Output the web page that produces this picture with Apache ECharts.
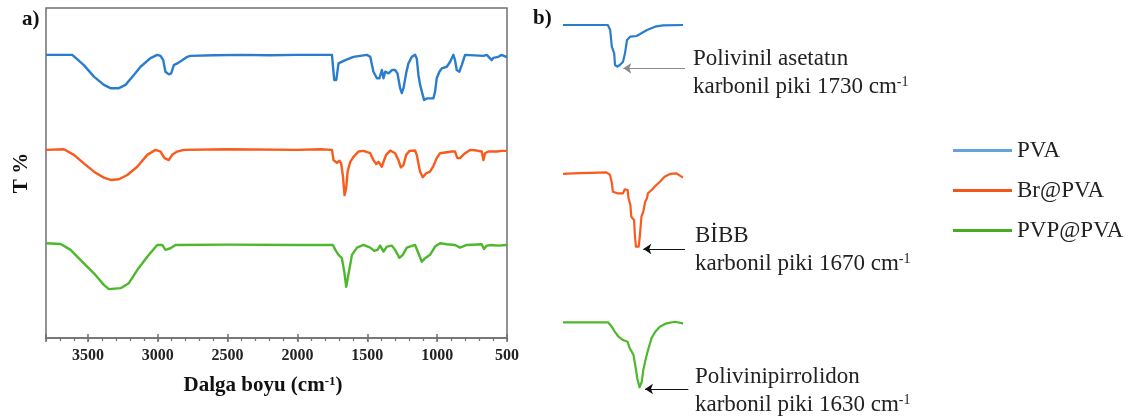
<!DOCTYPE html>
<html>
<head>
<meta charset="utf-8">
<script src="https://cdn.jsdelivr.net/npm/echarts@6/dist/echarts.min.js"></script>
<style>
  html, body { margin: 0; padding: 0; background: #fff; }
  #chart { width: 1132px; height: 416px; }
</style>
</head>
<body>
<div id="chart"></div>
<script>
// FTIR spectra (wavenumber in cm-1, transmittance offset per sample)
const pvaWavenumber = [3800, 3612, 3529, 3457, 3386, 3338, 3278, 3231, 3171, 3123, 3052, 3004, 2980, 2961, 2945, 2921, 2904, 2885, 2861, 2825, 2789, 2766, 2600, 2400, 2200, 2000, 1800, 1753, 1737, 1722, 1706, 1694, 1658, 1599, 1503, 1479, 1456, 1431, 1413, 1396, 1384, 1372, 1348, 1324, 1301, 1284, 1265, 1253, 1241, 1222, 1206, 1181, 1158, 1146, 1134, 1122, 1103, 1093, 1074, 1027, 1015, 1003, 984, 967, 931, 907, 884, 872, 860, 841, 824, 800, 669, 645, 609, 598, 562, 538, 507, 500];
const pvaT = [85.8, 85.8, 82.7, 79.2, 76.7, 75.7, 75.7, 76.7, 79.7, 82.2, 84.8, 85.8, 85.5, 84.2, 80.7, 79.9, 80.2, 82.7, 83.2, 84.2, 85.2, 85.5, 85.7, 85.8, 85.7, 85.8, 85.8, 85.8, 78.2, 78.2, 83.2, 83.7, 84.2, 85.2, 85.8, 85.2, 80.7, 78.7, 78.7, 81.2, 78.7, 80.7, 80.2, 81.2, 81.2, 80.2, 75.7, 74.2, 75.7, 80.2, 83.2, 85.2, 85.8, 84.7, 79.7, 76.7, 73.6, 72.1, 72.6, 72.6, 74.6, 78.7, 80.7, 81.7, 82.2, 83.7, 85.8, 84.2, 81.2, 80.7, 82.7, 85.8, 85.5, 85.8, 84.2, 84.9, 85.2, 85.8, 85.2, 85.3];

const brWavenumber = [3800, 3672, 3600, 3529, 3457, 3386, 3338, 3278, 3218, 3147, 3075, 3016, 2980, 2952, 2921, 2897, 2861, 2814, 2500, 2000, 1837, 1753, 1742, 1717, 1699, 1687, 1674, 1663, 1658, 1651, 1641, 1622, 1599, 1563, 1527, 1479, 1456, 1436, 1420, 1408, 1396, 1384, 1365, 1336, 1301, 1277, 1260, 1241, 1222, 1198, 1158, 1146, 1134, 1122, 1103, 1079, 1051, 1027, 1003, 979, 944, 895, 872, 855, 836, 800, 764, 717, 681, 669, 657, 634, 574, 538, 507, 500];
const brT = [57.0, 57.2, 55.5, 52.9, 50.4, 48.6, 47.9, 48.1, 49.4, 51.9, 55.5, 57.0, 56.5, 54.5, 53.9, 55.5, 56.5, 57.0, 57.2, 57.0, 57.2, 57.0, 53.9, 53.1, 53.7, 52.9, 48.9, 43.3, 42.8, 45.4, 50.4, 53.4, 54.9, 56.5, 56.7, 56.0, 53.9, 52.7, 53.4, 52.9, 51.9, 53.4, 55.5, 56.8, 56.0, 53.9, 51.7, 52.4, 55.5, 56.7, 56.8, 55.5, 52.9, 50.4, 48.7, 49.9, 50.4, 52.1, 54.5, 56.0, 56.2, 56.5, 56.5, 54.5, 54.5, 56.0, 57.0, 56.8, 56.5, 53.9, 56.0, 56.5, 56.5, 56.7, 56.7, 56.7];

const pvpWavenumber = [3800, 3695, 3624, 3529, 3457, 3386, 3350, 3266, 3207, 3147, 3075, 3004, 2968, 2945, 2909, 2873, 2500, 2000, 1746, 1729, 1706, 1682, 1665, 1651, 1641, 1627, 1610, 1574, 1527, 1479, 1450, 1427, 1408, 1384, 1360, 1324, 1301, 1270, 1246, 1217, 1158, 1134, 1110, 1086, 1051, 1015, 979, 931, 872, 836, 788, 681, 665, 645, 609, 562, 507, 500];
const pvpT = [28.7, 28.5, 26.7, 22.6, 19.6, 16.1, 14.8, 15.1, 16.6, 20.6, 24.6, 28.2, 28.2, 26.7, 27.2, 28.2, 28.3, 28.2, 28.2, 26.7, 25.2, 24.2, 20.1, 15.5, 16.1, 21.1, 25.2, 27.4, 28.2, 27.4, 26.4, 26.7, 28.0, 26.2, 27.7, 28.0, 26.7, 24.3, 25.2, 27.4, 28.2, 25.7, 23.1, 24.2, 25.2, 27.7, 28.7, 28.4, 28.2, 27.4, 28.2, 28.4, 27.0, 28.0, 28.2, 28.0, 28.2, 28.2];

// Carbonyl region close-ups
const pvaCoWavenumber = [1798, 1742, 1739, 1737, 1734, 1733, 1730, 1727, 1723, 1720.5, 1718, 1716, 1714, 1706, 1700, 1693, 1683, 1673, 1648];
const pvaCoT = [90, 90, 80, 46.6, 33.4, 10, 6.6, 10, 16.6, 33.4, 60, 63.4, 66.6, 68, 73.4, 80, 86.6, 89.4, 90];

const brCoWavenumber = [1750, 1739, 1737, 1703, 1699, 1697, 1696, 1691, 1685, 1683, 1680, 1679, 1677, 1676, 1673, 1672, 1671, 1668, 1667, 1665, 1663, 1661, 1659, 1658, 1654, 1650, 1645, 1640, 1634, 1627, 1620];
const brCoT = [92.9, 93.7, 94.9, 94.9, 91.7, 81.8, 71.8, 69.9, 69.9, 74.6, 73.8, 63.9, 56.0, 42.0, 38.1, 18.2, 6.3, 6.3, 16.3, 42.0, 48.0, 59.9, 63.9, 69.9, 73.8, 78.6, 83.7, 89.6, 92.9, 93.7, 88.5];

const pvpCoWavenumber = [1732, 1672, 1667, 1663, 1658, 1652, 1646, 1643, 1638, 1635, 1633, 1630, 1627, 1625, 1621, 1618, 1614, 1609, 1603, 1594, 1583, 1572];
const pvpCoT = [92.9, 92.9, 87.1, 80.4, 73.7, 69.3, 67.1, 58.3, 49.3, 31.6, 18.3, 6.3, 13.7, 29.3, 47.1, 58.3, 71.6, 80.4, 87.1, 91.6, 93.7, 91.6];

// Labels
const seriesNames = ['PVA', 'Br@PVA', 'PVP@PVA'];
const xTickLabels = [3500, 3000, 2500, 2000, 1500, 1000, 500];
const peakTitles = ['Polivinil asetatın', 'BİBB', 'Polivinipirrolidon'];
const peakWavenumbers = [1730, 1670, 1630];
// annotation arrows: tip next to each carbonyl minimum, tail under the caption
const arrowTip = [[1722.6, 3.4], [1663, 3.6], [1622.7, 4]];
const arrowTail = [[1645.5, 3.4], [1617.8, 3.6], [1564.9, 4]];

const lineColors = ['#2a7dcc', '#fa5a1c', '#4db82b'];
const legendColors = ['#64a2dc', '#f4561a', '#45ad22'];
const arrowColors = ['#8a8a8a', '#111', '#111'];
const SERIF = "'Liberation Serif', 'Times New Roman', serif";

const zip = (xs, ys) => xs.map((x, i) => [x, ys[i]]);

const mainSpectra = [zip(pvaWavenumber, pvaT), zip(brWavenumber, brT), zip(pvpWavenumber, pvpT)];
const closeUps = [zip(pvaCoWavenumber, pvaCoT), zip(brCoWavenumber, brCoT), zip(pvpCoWavenumber, pvpCoT)];
// x ranges of the close-up panels (the panel reaches a little past the curve to hold the arrow tail)
const closeUpRanges = [[1639.25, 1798], [1612.4, 1750], [1562.7, 1732]];

const insetGrids = [
  { left: 563, width: 127, top: 20, height: 50 },
  { left: 563, width: 127, top: 168, height: 84 },
  { left: 563, width: 127, top: 317, height: 75 }
];

const chart = echarts.init(document.getElementById('chart'), null, { renderer: 'canvas' });

const axisGray = '#707070';

const xAxes = [
  {
    type: 'value', gridIndex: 0, position: 'bottom', offset: 0,
    min: 500, max: 3800, interval: 500, inverse: true,
    axisLine: { show: true, lineStyle: { color: axisGray, width: 1.5 } },
    axisTick: { show: true, inside: false, length: 4, lineStyle: { color: axisGray, width: 1.5 } },
    splitLine: { show: false },
    axisLabel: {
      margin: 10, color: '#222', fontFamily: SERIF, fontWeight: 'bold', fontSize: 16,
      formatter: v => (xTickLabels.includes(v) ? String(v) : '')
    },
    name: 'Dalga boyu (cm{sup|-1})',
    nameLocation: 'middle', nameGap: 37,
    nameTextStyle: {
      fontFamily: SERIF, fontWeight: 'bold', fontSize: 21, color: '#111',
      padding: [0, 27, 0, 0],
      rich: { sup: { fontFamily: SERIF, fontWeight: 'bold', fontSize: 13, verticalAlign: 'top', color: '#111', padding: [0, 0, 8, 0] } }
    }
  },
  {
    type: 'value', gridIndex: 0, position: 'bottom', offset: 0,
    min: 500, max: 3800, interval: 500, inverse: true,
    axisLine: { show: false },
    axisTick: { show: true, inside: true, length: 4, lineStyle: { color: axisGray, width: 1.5 } },
    axisLabel: { show: false }, splitLine: { show: false }
  },
  {
    type: 'value', gridIndex: 0, position: 'bottom', offset: 0,
    min: 500, max: 3800, interval: 100, inverse: true,
    axisLine: { show: false },
    axisTick: { show: true, inside: false, length: 3, lineStyle: { color: axisGray, width: 1.2 } },
    axisLabel: { show: false }, splitLine: { show: false }
  }
];
closeUpRanges.forEach((r, i) => {
  xAxes.push({ type: 'value', gridIndex: i + 1, show: false, min: r[0], max: r[1], inverse: true });
});

const yAxes = [{
  type: 'value', gridIndex: 0, min: 0, max: 100,
  axisLine: { show: false }, axisTick: { show: false }, axisLabel: { show: false }, splitLine: { show: false },
  name: 'T %', nameLocation: 'middle', nameGap: 14, nameRotate: 90,
  nameTextStyle: { fontFamily: SERIF, fontWeight: 'bold', fontSize: 21, color: '#111' }
}];
insetGrids.forEach((g, i) => {
  yAxes.push({ type: 'value', gridIndex: i + 1, show: false, min: 0, max: 100 });
});

const series = [];
mainSpectra.forEach((data, i) => {
  series.push({
    name: seriesNames[i], type: 'line', xAxisIndex: 0, yAxisIndex: 0,
    data, showSymbol: false, symbol: 'none', smooth: false,
    lineStyle: { color: lineColors[i], width: 2.4, join: 'round' }, itemStyle: { color: lineColors[i] },
    z: 3
  });
});
closeUps.forEach((data, i) => {
  series.push({
    name: seriesNames[i] + ' C=O', type: 'line', xAxisIndex: 3 + i, yAxisIndex: 1 + i,
    data, showSymbol: false, symbol: 'none', clip: false,
    lineStyle: { color: lineColors[i], width: 2.2, join: 'round' }, itemStyle: { color: lineColors[i] },
    markLine: {
      silent: true, symbol: ['arrow', 'none'], symbolSize: 8,
      label: { show: false },
      lineStyle: { color: arrowColors[i], width: 1, type: 'solid' },
      data: [[{ coord: arrowTip[i] }, { coord: arrowTail[i] }]]
    }
  });
});

const annotationMid = [[59, 87], [236, 264], [377, 405]];
const annotationLeft = [693, 695, 695];
const graphics = [
  { type: 'text', left: 22, top: 9, style: { text: 'a)', fontFamily: SERIF, fontWeight: 'bold', fontSize: 21, fill: '#111' } },
  { type: 'text', left: 533, top: 8, style: { text: 'b)', fontFamily: SERIF, fontWeight: 'bold', fontSize: 21, fill: '#111' } }
];
peakTitles.forEach((t, i) => {
  graphics.push({
    type: 'text', left: annotationLeft[i], top: annotationMid[i][0] - 12,
    style: { text: t, fontFamily: SERIF, fontSize: 23, fill: '#222' }
  });
  graphics.push({
    type: 'text', left: annotationLeft[i], top: annotationMid[i][1] - 12,
    style: {
      text: 'karbonil piki ' + peakWavenumbers[i] + ' cm{sup|-1}',
      fontFamily: SERIF, fontSize: 23, fill: '#222',
      rich: { sup: { fontFamily: SERIF, fontSize: 14, fill: '#222', verticalAlign: 'top', padding: [0, 0, 9, 0] } }
    }
  });
});

chart.setOption({
  animation: false,
  backgroundColor: '#ffffff',
  grid: [
    { left: 46, right: 625, top: 8, bottom: 78, show: true, borderColor: axisGray, borderWidth: 1.5, backgroundColor: 'transparent' },
    ...insetGrids
  ],
  xAxis: xAxes,
  yAxis: yAxes,
  legend: {
    orient: 'vertical', left: 948, top: 134,
    icon: 'rect', itemWidth: 59, itemHeight: 3, itemGap: 17,
    textStyle: { fontFamily: SERIF, fontSize: 23, lineHeight: 23, color: '#222' },
    data: seriesNames.map((n, i) => ({ name: n, itemStyle: { color: legendColors[i] } })),
    selectedMode: false
  },
  graphic: graphics,
  series
});
</script>
</body>
</html>
